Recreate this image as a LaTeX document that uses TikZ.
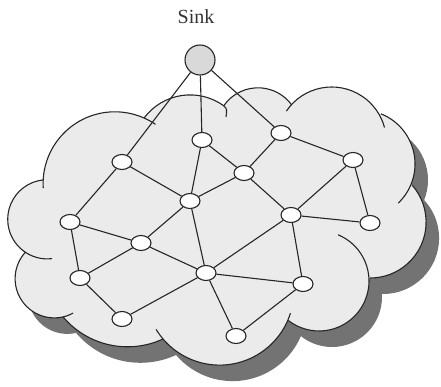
\documentclass[tikz,border=0pt]{standalone}
\usepackage{fontspec}
\setmainfont{Liberation Serif}
\usetikzlibrary{shapes.geometric,positioning}

\tikzset{
  mote/.style={ellipse, draw=black!85, fill=white, line width=1.1pt,
    minimum width=20pt, minimum height=15pt, inner sep=0pt},
  sinknode/.style={circle, draw=black!85, fill=black!15, line width=1.1pt,
    minimum size=30pt, inner sep=0pt},
  link/.style={draw=black!85, line width=1.1pt},
  cloudfill/.style={fill=black!8},
  cloudshade/.style={fill=black!55},
  cloudline/.style={draw=black!85, line width=1.1pt},
}

% bumps of the cloud: centre x / centre y / radius
\def\cloudbumps{47.3/166.7/39.6, 114.9/202.4/71.8, 190.1/233.8/57.3,
  258/256.5/41.7, 331.7/244.3/54.7, 361/222/54, 370.2/163.9/55.9,
  319/105/50, 219.6/95.2/74.3, 127.5/123.6/84.4, 54.3/107.3/39.2}
\def\cloudcore{(47.3,166.7) -- (114.9,202.4) -- (190.1,233.8) -- (258,256.5)
  -- (331.7,244.3) -- (361,222) -- (370.2,163.9) -- (319,105)
  -- (219.6,95.2) -- (127.5,123.6) -- (54.3,107.3) -- cycle}

\begin{document}
\begin{tikzpicture}[x=1pt,y=1pt]
  \useasboundingbox (0,0) rectangle (441,386);

  % shadow, then the cloud itself
  \begin{scope}[shift={(13,-16)}]
    \foreach \cx/\cy/\rad in \cloudbumps
      \fill[cloudshade] (\cx,\cy) circle (\rad);
    \fill[cloudshade] \cloudcore;
  \end{scope}
  \foreach \cx/\cy/\rad in \cloudbumps
    \fill[cloudfill] (\cx,\cy) circle (\rad);
  \fill[cloudfill] \cloudcore;

  % outline arcs, each running on a little past its neighbour
  \foreach \cx/\cy/\rad/\sa/\ea in {47.3/166.7/39.6/277.1/96.2,
      114.9/202.4/71.8/183.6/55.6, 190.1/233.8/57.3/143.4/53.7,
      258/256.5/41.7/145.3/36.9, 331.7/244.3/54.7/146/15,
      361/222/54/68.4/-46.5, 370.2/163.9/55.9/41.6/-90.2,
      319/105/50/67.6/-127.9, 219.6/95.2/74.3/-17.5/-148.7,
      127.5/123.6/84.4/-65.1/-139.7, 54.3/107.3/39.2/-61.4/-222.3}
    \draw[cloudline] (\cx,\cy) ++(\sa:\rad)
      arc[start angle=\sa, end angle=\ea, radius=\rad];
  \draw[cloudline] (224,280) .. controls (227,277) .. (226,269);

  \node[sinknode] (sink) at (200,326) {};
  \node[above=21pt of sink, xshift=-4pt, inner sep=0pt, text=black!80,
    font=\fontsize{20}{24}\selectfont] (sinklabel) {Sink};

  \node[mote] (s1) at (122,224) {};
  \node[mote] (s2) at (202,246) {};
  \node[mote] (s3) at (281,253) {};
  \node[mote] (s4) at (244,213) {};
  \node[mote] (s5) at (353,226) {};
  \node[mote] (s6) at (190,185) {};
  \node[mote] (s7) at (70,164) {};
  \node[mote] (s8) at (141,143) {};
  \node[mote] (s9) at (291,171) {};
  \node[mote] (s10) at (370,163) {};
  \node[mote] (s11) at (80,108) {};
  \node[mote] (s12) at (206,113) {};
  \node[mote] (s13) at (303,102) {};
  \node[mote] (s14) at (122,67) {};
  \node[mote] (s15) at (236,50) {};

  \foreach \a/\b in {sink/s1, sink/s2, sink/s3, s1/s6, s1/s7, s2/s6, s2/s4,
      s3/s4, s3/s5, s4/s6, s4/s9, s5/s9, s5/s10, s6/s8, s6/s12, s7/s8,
      s7/s11, s8/s11, s8/s12, s9/s10, s9/s12, s9/s13, s11/s14, s12/s13,
      s12/s14, s12/s15, s13/s15}
    \draw[link] (\a) -- (\b);
\end{tikzpicture}
\end{document}
